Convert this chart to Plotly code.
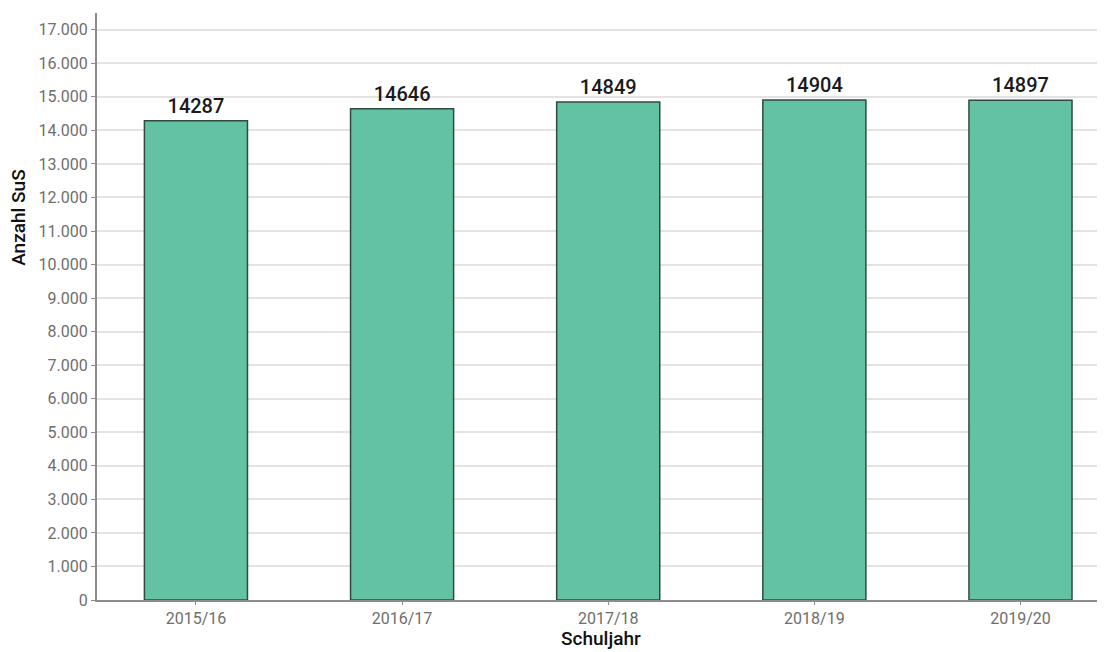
import plotly.graph_objs as go

schuljahre = ['2015/16', '2016/17', '2017/18', '2018/19', '2019/20']
anzahl_sus = [14287, 14646, 14849, 14904, 14897]
y_ticks = list(range(0, 18000, 1000))
y_tick_labels = ['{:,}'.format(v).replace(',', '.') for v in y_ticks]

FONT = 'Roboto, sans-serif'

trace = go.Bar(x=schuljahre,
               y=anzahl_sus,
               text=[str(v) for v in anzahl_sus],
               textposition='outside',
               textfont=dict(family=FONT, size=20, color='#1a1a1a', weight=500),
               cliponaxis=False,
               marker=dict(color='#64c2a4',
                           line=dict(color='#2f4a40', width=1.5)),
               width=0.5)

# the page body keeps its default 8px margin, so the figure is 8px smaller
layout = go.Layout(
    width=1097, height=644,
    margin=dict(l=89, r=0, t=5, b=52),
    paper_bgcolor='white',
    plot_bgcolor='white',
    showlegend=False,
    font=dict(family=FONT),
    xaxis=dict(range=[-0.48, 4.41], automargin=False,
               showline=True, linecolor='#8c8c8c', linewidth=2,
               ticks='outside', ticklen=3, tickcolor='#8c8c8c',
               tickfont=dict(size=16, color='#6e6e6e')),
    yaxis=dict(range=[0, 17500], automargin=False,
               tickvals=y_ticks, ticktext=y_tick_labels,
               showline=True, linecolor='#8c8c8c', linewidth=2,
               ticks='outside', ticklen=4, tickcolor='#8c8c8c',
               tickfont=dict(size=16, color='#6e6e6e'),
               showgrid=True, gridcolor='#e3e3e3', gridwidth=2,
               zeroline=False),
    annotations=[dict(text='Anzahl SuS', textangle=-90,
                      xref='paper', yref='paper', x=0, y=0.651,
                      xanchor='center', yanchor='middle', xshift=-78,
                      showarrow=False,
                      font=dict(size=19, color='#111111', weight=500)),
                 dict(text='Schuljahr',
                      xref='paper', yref='paper', x=0.5, y=0,
                      xanchor='center', yanchor='middle', yshift=-38,
                      showarrow=False,
                      font=dict(size=19, color='#111111', weight=500))],
)

fig = go.Figure(data=[trace], layout=layout)
fig.write_html('out.html')
